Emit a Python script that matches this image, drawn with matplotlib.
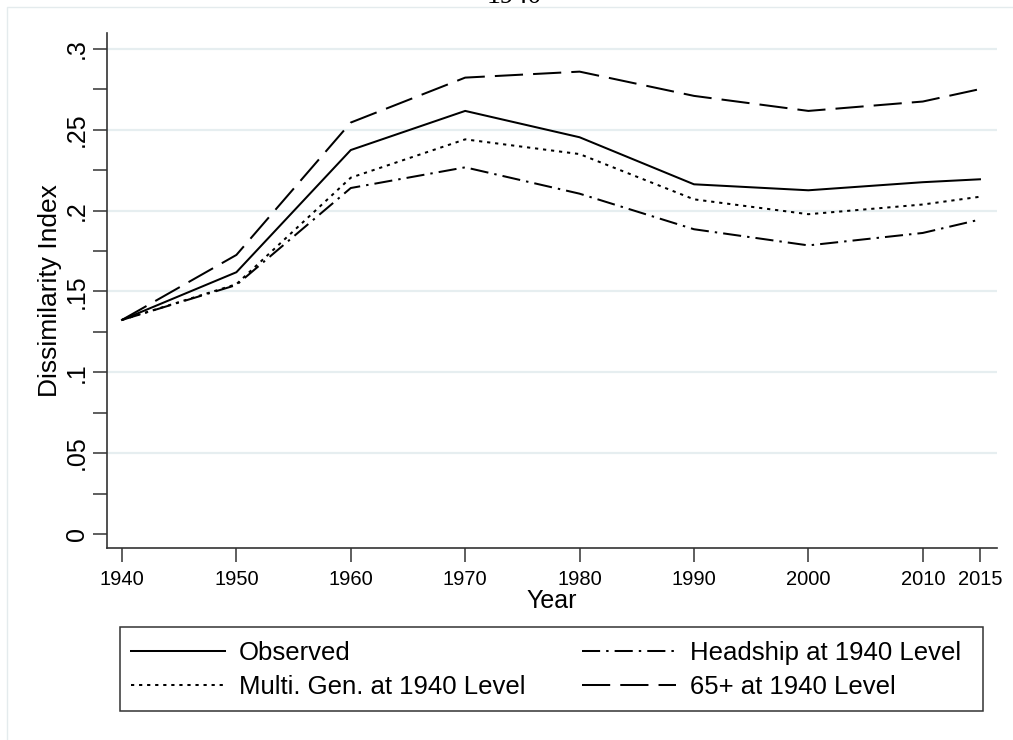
import matplotlib.pyplot as plt
from matplotlib.patches import Rectangle
from matplotlib.ticker import MultipleLocator

plt.rcParams['font.family'] = ['Liberation Sans', 'DejaVu Sans']

years = [1940, 1950, 1960, 1970, 1980, 1990, 2000, 2010, 2015]
observed = [0.1324, 0.1619, 0.2375, 0.2617, 0.2454, 0.2163, 0.2126, 0.2176, 0.2194]
multi_gen = [0.1324, 0.1545, 0.2204, 0.2441, 0.2350, 0.2070, 0.1978, 0.2038, 0.2086]
headship = [0.1324, 0.1540, 0.2140, 0.2268, 0.2105, 0.1885, 0.1785, 0.1862, 0.1945]
age65 = [0.1324, 0.1726, 0.2545, 0.2823, 0.2860, 0.2710, 0.2617, 0.2675, 0.2752]

series_labels = ['Observed', 'Multi. Gen. at 1940 Level',
                 'Headship at 1940 Level', '65+ at 1940 Level']
xtick_years = [1940, 1950, 1960, 1970, 1980, 1990, 2000, 2010, 2015]
ytick_vals = [0, 0.05, 0.1, 0.15, 0.2, 0.25, 0.3]
ytick_text = ['0', '.05', '.1', '.15', '.2', '.25', '.3']

W, H = 1013, 740
fig = plt.figure(figsize=(W / 100, H / 100), dpi=100)

# faint outer frame of the graph region
fig.add_artist(Rectangle((7 / W, -0.1), 1.2, 1 - 7 / H + 0.1, transform=fig.transFigure,
                         fill=False, edgecolor='#e4ebed', linewidth=1))
fig.text(514 / W, 1 - 3 / H, '1940', ha='center', va='baseline',
         family='Liberation Serif', fontsize=20, color='black')

ax = fig.add_axes([107 / W, 1 - 548 / H, 890 / W, (548 - 33) / H])
lw = 1.45
styles = [
    dict(linestyle='-'),
    dict(linestyle=(0, (1.6, 2.4))),
    dict(linestyle=(0, (9, 3, 1.2, 3))),
    dict(linestyle=(0, (14, 5))),
]
handles = []
for vals, st, lab in zip([observed, multi_gen, headship, age65], styles, series_labels):
    h, = ax.plot(years, vals, color='black', linewidth=lw, label=lab, **st)
    handles.append(h)

ax.set_xlim(1938.69, 2016.49)
ax.set_ylim(-0.0087, 0.3099)
ax.set_xticks(xtick_years)
ax.set_xticklabels([str(y) for y in xtick_years], fontsize=14.5)
ax.set_yticks(ytick_vals)
ax.set_yticklabels(ytick_text, fontsize=18, rotation=90, va='center')
ax.yaxis.set_minor_locator(MultipleLocator(0.025))
ax.tick_params(axis='both', which='both', length=10, width=1.1, color='#333333')
ax.tick_params(axis='y', pad=3)
ax.tick_params(axis='x', pad=6)

for v in ytick_vals[1:]:
    ax.axhline(v, color='#e6eef0', linewidth=1.6, zorder=0)

for side in ['top', 'right']:
    ax.spines[side].set_visible(False)
for side in ['left', 'bottom']:
    ax.spines[side].set_color('#333333')
    ax.spines[side].set_linewidth(1.2)

ax.set_xlabel('Year', fontsize=18, labelpad=0)
ax.set_ylabel('Dissimilarity Index', fontsize=19, labelpad=2)

# legend box, with the entries placed inside it
fig.add_artist(Rectangle((120 / W, 1 - 711 / H), 863 / W, 84 / H,
                         transform=fig.transFigure, fill=False,
                         edgecolor='#333333', linewidth=1.1))
leg = fig.legend(handles=handles, labels=series_labels, ncol=2,
                 loc='upper left', bbox_to_anchor=(131 / W, 1 - 641 / H),
                 fontsize=18.5, handlelength=3.65, handletextpad=0.55,
                 labelspacing=0.4, columnspacing=2.2, borderpad=0,
                 borderaxespad=0, frameon=False)

fig.savefig('out.png', dpi=100)
